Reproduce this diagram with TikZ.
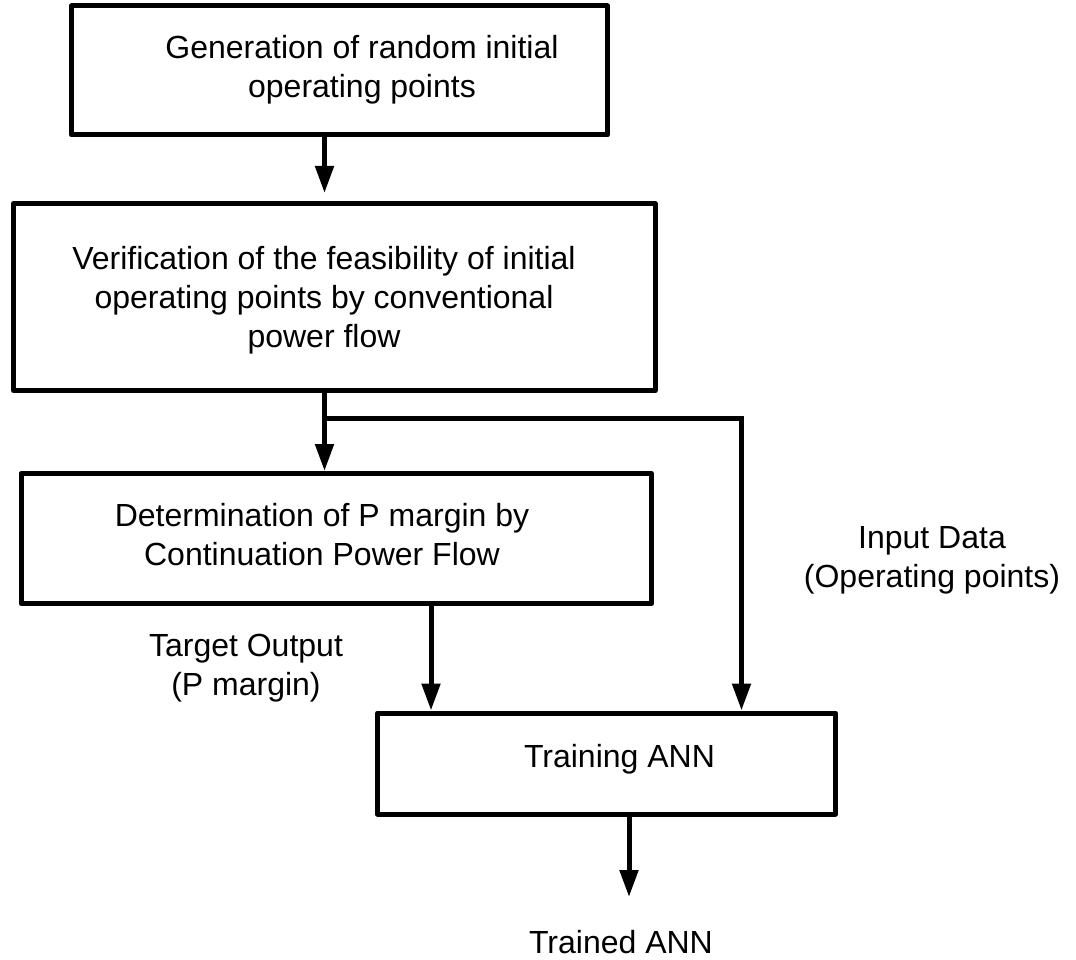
\documentclass[tikz,border=0pt]{standalone}
\usepackage{fontspec}
\setmainfont{Liberation Sans}
\usetikzlibrary{arrows.meta}
\begin{document}
\begin{tikzpicture}[x=1pt,y=-1pt,
  box/.style={draw=black, line width=5pt, line join=round, rectangle, inner sep=0pt},
  txt/.style={font=\fontsize{32}{39}\selectfont, align=center, inner sep=0pt, anchor=base},
  conn/.style={line width=5pt, -{Triangle[length=27pt,width=18pt]}}]
\useasboundingbox (0,0) rectangle (1076,960);

% process boxes
\node[box, minimum width=536pt, minimum height=129pt] (b1) at (339.5,70.5) {};
\node[box, minimum width=641.5pt, minimum height=187pt] (b2) at (334.25,297) {};
\node[box, minimum width=630.5pt, minimum height=130pt] (b3) at (336.25,538.5) {};
\node[box, minimum width=458pt, minimum height=101pt] (b4) at (606.5,763.5) {};

% box texts (base anchor = baseline of the last line)
\node[txt] (t1) at (362,98) {Generation of random initial\\operating points};
\node[txt] (t2) at (324,347) {Verification of the feasibility of initial\\operating points by conventional\\power flow};
\node[txt] (t3) at (322,565) {Determination of P margin by\\Continuation Power Flow};
\node[txt] (t4) at (619.5,767) {Training ANN};

% side labels
\node[txt] (lt) at (246,695) {Target Output\\(P margin)};
\node[txt] (li) at (932,587) {Input Data\\(Operating points)};
\node[txt] (lo) at (621,953) {Trained ANN};

% connector columns
\coordinate (c1) at (324.5,0);
\coordinate (c3) at (431,0);
\coordinate (c5) at (741.5,0);
\coordinate (split) at (324.5,418.5);
\coordinate (out) at (629,897);

% connectors
\draw[conn, shorten >=8pt] (b1.south -| c1) -- (b2.north -| c1);
\draw[conn] (b2.south -| c1) -- (b3.north -| c1);
\draw[conn] (split) -| (b4.north -| c5);
\draw[conn] (b3.south -| c3) -- (b4.north -| c3);
\draw[conn] (b4.south -| out) -- (out);
\end{tikzpicture}
\end{document}
